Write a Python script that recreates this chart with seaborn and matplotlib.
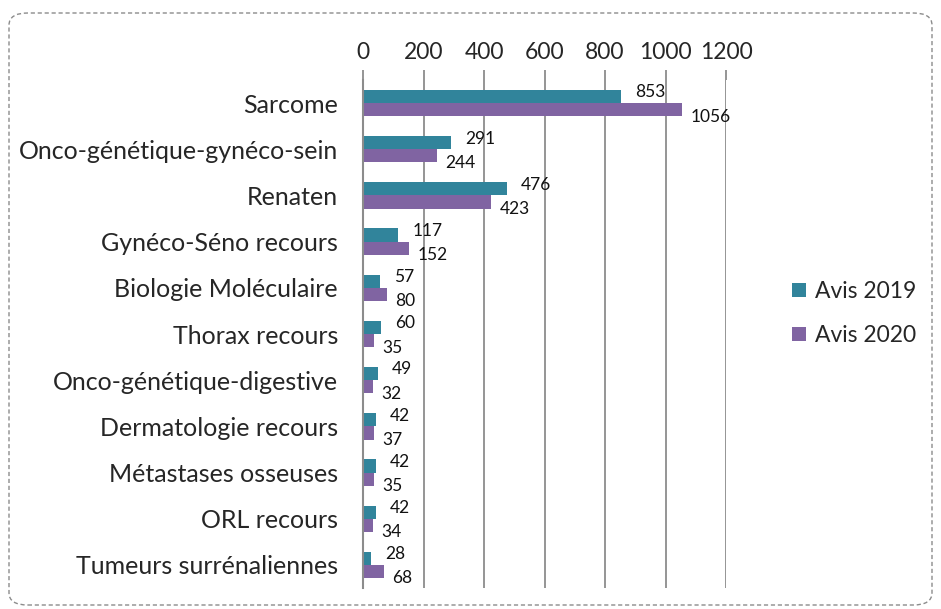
import matplotlib
matplotlib.use("Agg")
import matplotlib.pyplot as plt
from matplotlib.patches import FancyBboxPatch
from matplotlib.ticker import FixedLocator
import pandas as pd
import seaborn as sns

# chart data
categories = ["Sarcome", "Onco-génétique-gynéco-sein", "Renaten", "Gynéco-Séno recours",
              "Biologie Moléculaire", "Thorax recours", "Onco-génétique-digestive",
              "Dermatologie recours", "Métastases osseuses", "ORL recours",
              "Tumeurs surrénaliennes"]
avis_2019 = [853, 291, 476, 117, 57, 60, 49, 42, 42, 42, 28]
avis_2020 = [1056, 244, 423, 152, 80, 35, 32, 37, 35, 34, 68]
series = ["Avis 2019", "Avis 2020"]
x_ticks = [0, 200, 400, 600, 800, 1000, 1200]

df = pd.DataFrame({
    "categorie": categories * 2,
    "valeur": avis_2019 + avis_2020,
    "serie": [series[0]] * len(categories) + [series[1]] * len(categories),
})

sns.set_style("white")
plt.rcParams["font.family"] = ["Lato", "DejaVu Sans"]

fig = plt.figure(figsize=(9.41, 6.09), dpi=100)
ax = fig.add_axes([363 / 941, 1 - 588 / 609, 363 / 941, 508 / 609])

sns.barplot(data=df, y="categorie", x="valeur", hue="serie", orient="h",
            palette=["#31849B", "#8064A2"], width=0.57, ax=ax, saturation=1,
            edgecolor="none")

ax.set_xlim(0, 1200)
ax.set_ylim(len(categories) - 0.5, -0.5)
ax.set_xticks(x_ticks)
ax.xaxis.tick_top()
ax.grid(axis="x", color="#8c8c8c", linewidth=1.3)
ax.set_axisbelow(True)
ax.set_xlabel("")
ax.set_ylabel("")
for s in ["top", "right", "bottom"]:
    ax.spines[s].set_visible(False)
ax.spines["left"].set_color("#8c8c8c")
ax.spines["left"].set_linewidth(1.5)

ax.tick_params(axis="x", length=7, width=1.3, color="#8c8c8c", pad=5, labelsize=16.5)
ax.tick_params(axis="y", which="major", length=0, pad=18, labelsize=18)
ax.yaxis.set_minor_locator(FixedLocator([i - 0.5 for i in range(len(categories) + 1)]))
ax.tick_params(axis="y", which="minor", length=6, width=1.5, color="#8c8c8c")

# data labels next to the bars
offsets = [(10, 3), (6, -5)]
for cont, (dx, dy) in zip(ax.containers, offsets):
    for bar in cont:
        w = bar.get_width()
        ax.annotate(f"{w:.0f}", (w, bar.get_y() + bar.get_height() / 2),
                    xytext=(dx, dy), textcoords="offset points",
                    ha="left", va="center", fontsize=12.5, color="#111111",
                    annotation_clip=False)

ax.legend(loc="center left", bbox_to_anchor=(1.125, 0.54), frameon=False,
          fontsize=16.5, handlelength=0.6, handleheight=0.6, handletextpad=0.4,
          labelspacing=1.0)

border = FancyBboxPatch((9 / 941, 4 / 609), 923 / 941, 592 / 609,
                        boxstyle="round,pad=0,rounding_size=0.02",
                        transform=fig.transFigure, fill=False,
                        edgecolor="#8c8c8c", linestyle=(0, (3, 2)), linewidth=1)
fig.patches.append(border)

fig.savefig("out.png", dpi=100)
